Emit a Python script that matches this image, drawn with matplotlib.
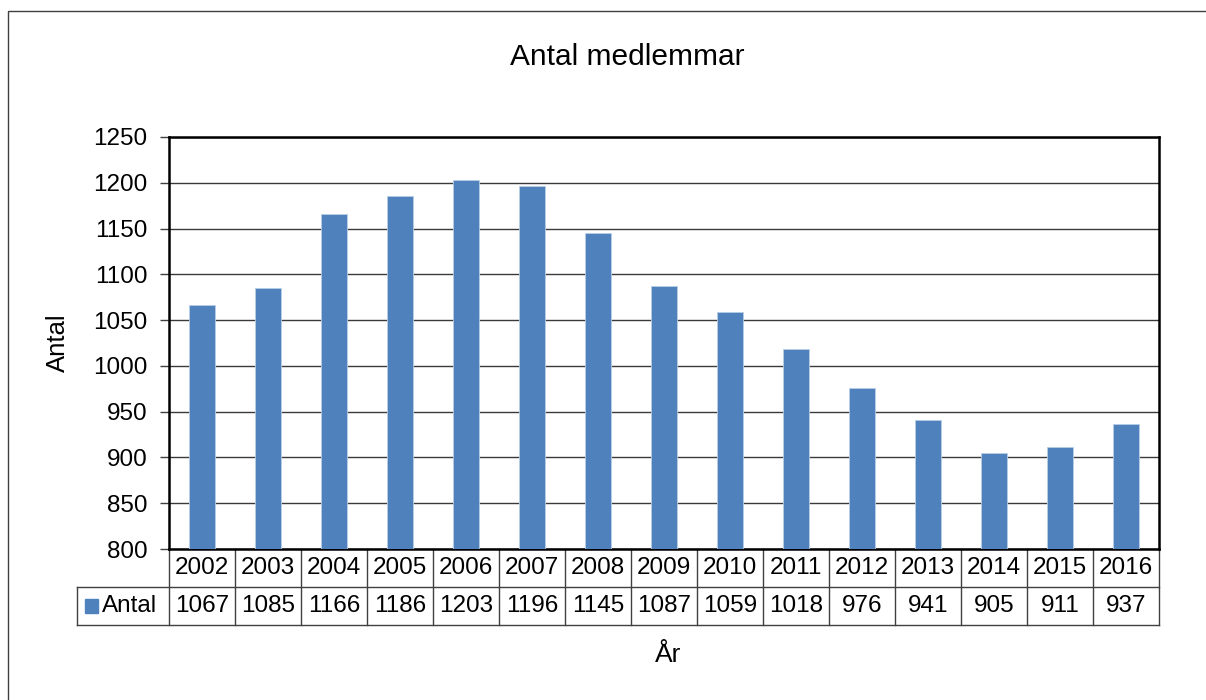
import matplotlib
matplotlib.use("Agg")
import matplotlib.pyplot as plt
import matplotlib.transforms as mtransforms
from matplotlib.patches import Rectangle

years = ["2002", "2003", "2004", "2005", "2006", "2007", "2008", "2009",
         "2010", "2011", "2012", "2013", "2014", "2015", "2016"]
antal = [1067, 1085, 1166, 1186, 1203, 1196, 1145, 1087, 1059, 1018, 976, 941, 905, 911, 937]
yticks = [800, 850, 900, 950, 1000, 1050, 1100, 1150, 1200, 1250]

plt.rcParams['font.family'] = ['Liberation Sans', 'DejaVu Sans']
blue = "#4F81BD"
W, H = 1206, 700
fs = 17.5

fig = plt.figure(figsize=(W / 100, H / 100), dpi=100)
ax = fig.add_axes([169 / W, 1 - 549 / H, 990 / W, 412 / H])

# outer chart frame
fig.patches.append(Rectangle((8 / W, -0.01), 1.0, 1 - 11 / H + 0.01,
                             transform=fig.transFigure, fill=False,
                             edgecolor="#404040", linewidth=1.0))

x = list(range(len(years)))
ax.bar(x, antal, width=0.4, color=blue, edgecolor="#B9CDE5", linewidth=0.6, zorder=3)
ax.set_xlim(-0.5, len(years) - 0.5)
ax.set_ylim(800, 1250)
ax.set_yticks(yticks)
ax.set_yticklabels([str(v) for v in yticks], fontsize=fs)
ax.set_xticks([])
ax.tick_params(axis="y", direction="out", length=6.5, width=1, color="#404040", pad=9)
ax.grid(axis="y", color="#3a3a3a", linewidth=1.0, zorder=1)
for s in ax.spines.values():
    s.set_linewidth(1.8)
    s.set_color("black")

fig.text(627 / W, 1 - 57 / H, "Antal medlemmar", ha="center", va="center", fontsize=21.5)
fig.text(58 / W, 1 - 343 / H, "Antal", ha="center", va="center", rotation=90, fontsize=18.5)
fig.text(668 / W, 1 - 655 / H, "År", ha="center", va="center", fontsize=19)

# data table under the plot
rh = 38 / 412
trans = mtransforms.blended_transform_factory(ax.transData, ax.transAxes)
lc = "#404040"
for i in range(len(years) + 1):
    ax.plot([i - 0.5, i - 0.5], [0, -2 * rh], transform=trans, color=lc,
            linewidth=1.0, clip_on=False)
hx = -92 / 990
for yy in (-rh, -2 * rh):
    ax.plot([hx, 1], [yy, yy], transform=ax.transAxes, color=lc, linewidth=1.0, clip_on=False)
ax.plot([hx, hx], [-rh, -2 * rh], transform=ax.transAxes, color=lc, linewidth=1.0, clip_on=False)
for i, (yr, v) in enumerate(zip(years, antal)):
    ax.text(i, -rh / 2, yr, transform=trans, ha="center", va="center", fontsize=fs)
    ax.text(i, -1.5 * rh, str(v), transform=trans, ha="center", va="center", fontsize=fs)
ax.add_patch(Rectangle((-84 / 990, -1.5 * rh - 7 / 412), 13 / 990, 14 / 412,
                       transform=ax.transAxes, color=blue, clip_on=False))
ax.text(-67 / 990, -1.5 * rh, "Antal", transform=ax.transAxes, ha="left", va="center", fontsize=fs)

fig.savefig("out.png", dpi=100)
